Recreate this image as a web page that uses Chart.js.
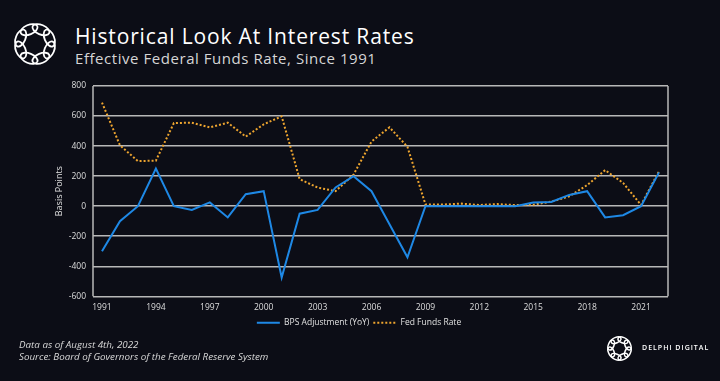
<!DOCTYPE html>
<html>
<head>
<meta charset="utf-8">
<script src="https://cdn.jsdelivr.net/npm/chart.js@4"></script>
<style>
  html, body { margin: 0; padding: 0; background: #0c0d16; width: 720px; height: 381px; overflow: hidden; }
  #wrap { position: relative; width: 720px; height: 381px; }
  #title { position: absolute; left: 75px; top: 22px; font-family: "Open Sans", sans-serif; font-weight: 500; font-size: 21px; letter-spacing: 0.85px; color: #ffffff; white-space: nowrap; }
  #subtitle { position: absolute; left: 75px; top: 48px; font-family: "Open Sans", sans-serif; font-weight: 400; font-size: 15px; letter-spacing: 0.55px; color: #d6d6d6; white-space: nowrap; }
  #foot { position: absolute; left: 19px; top: 339px; font-family: "Open Sans", sans-serif; font-style: italic; font-size: 9.8px; line-height: 12px; color: #d8d8d8; white-space: nowrap; }
  #brand { position: absolute; left: 642px; top: 343px; font-family: "Open Sans", sans-serif; font-size: 7px; letter-spacing: 1.0px; color: #ffffff; white-space: nowrap; font-weight: 600; }
  #chartbox { position: absolute; left: 0; top: 0; width: 720px; height: 381px; }
  svg { position: absolute; }
</style>
</head>
<body>
<div id="wrap">
  <svg id="logo1" width="50" height="50" style="left:10px; top:19px;" viewBox="-25 -25 50 50"></svg>
  <svg id="logo2" width="29" height="29" style="left:604.5px; top:333.5px;" viewBox="-25 -25 50 50"></svg>
  <div id="title">Historical Look At Interest Rates</div>
  <div id="subtitle">Effective Federal Funds Rate, Since 1991</div>
  <div id="chartbox"><canvas id="c" width="720" height="381"></canvas></div>
  <div id="foot">Data as of August 4th, 2022<br>Source: Board of Governors of the Federal Reserve System</div>
  <div id="brand">DELPHI DIGITAL</div>
</div>
<script>
// ---- data ----
const years = ["1991","1992","1993","1994","1995","1996","1997","1998","1999","2000","2001","2002","2003","2004","2005","2006","2007","2008","2009","2010","2011","2012","2013","2014","2015","2016","2017","2018","2019","2020","2021","2022"];
const bpsAdjustment = [-300,-100,0,250,0,-25,25,-75,80,100,-475,-50,-25,125,200,100,-120,-340,0,0,0,0,0,0,25,28,75,100,-75,-60,0,225];
const fedFundsRate = [690,405,300,303,553,556,525,556,463,545,598,180,124,100,210,430,525,395,12,11,17,8,14,7,10,30,65,140,240,155,8,233];
const yTicks = [-600,-400,-200,0,200,400,600,800];

// ---- logos (decoration) ----
function drawLogo(id, sw) {
  const svg = document.getElementById(id);
  const ns = "http://www.w3.org/2000/svg";
  for (let i = 0; i < 8; i++) {
    const a = i * 45;
    const e = document.createElementNS(ns, "ellipse");
    e.setAttribute("cx", 0); e.setAttribute("cy", -15.5);
    e.setAttribute("rx", 9); e.setAttribute("ry", 4.8);
    e.setAttribute("fill", "none"); e.setAttribute("stroke", "#ffffff");
    e.setAttribute("stroke-width", sw);
    e.setAttribute("transform", "rotate(" + (a + 22.5) + ")");
    svg.appendChild(e);
  }
}
drawLogo("logo1", 1.8);
drawLogo("logo2", 2.6);

// ---- chart ----
const frame = {
  id: "frame",
  afterDraw(chart) {
    const a = chart.chartArea, ctx = chart.ctx;
    ctx.save();
    ctx.strokeStyle = "#b8b8b8";
    ctx.lineWidth = 1.5;
    ctx.beginPath();
    ctx.moveTo(a.left, a.top); ctx.lineTo(a.left, a.bottom);
    ctx.moveTo(a.right, a.top); ctx.lineTo(a.right, a.bottom);
    ctx.stroke();
    ctx.restore();
  }
};

new Chart(document.getElementById("c"), {
  type: "line",
  data: {
    labels: years,
    datasets: [
      { label: "BPS Adjustment (YoY)", data: bpsAdjustment, borderColor: "#1e88e5", backgroundColor: "#1e88e5", borderWidth: 2, pointRadius: 0, tension: 0 },
      { label: "Fed Funds Rate", data: fedFundsRate, borderColor: "#eea52f", backgroundColor: "#eea52f", borderWidth: 2, borderDash: [2, 2], pointRadius: 0, tension: 0 }
    ]
  },
  options: {
    responsive: false,
    animation: false,
    layout: { padding: { left: 50, right: 52, top: 86, bottom: 44 } },
    plugins: {
      title: { display: false },
      tooltip: { enabled: false },
      legend: {
        position: "bottom",
        labels: {
          color: "#e0e0e0",
          font: { family: "Open Sans", size: 8.5 },
          boxWidth: 23, boxHeight: 0, padding: 4
        }
      }
    },
    scales: {
      x: {
        offset: true,
        grid: { display: false, drawTicks: false },
        border: { display: false },
        ticks: {
          color: "#dddddd", font: { family: "Open Sans", size: 8.5 },
          autoSkip: false, maxRotation: 0, padding: 6,
          callback: function(v, i) { return i % 3 === 0 ? years[i] : ""; }
        },
        afterFit: (s) => { s.height = s.height - 4; }
      },
      y: {
        min: -600, max: 800,
        afterBuildTicks: (s) => { s.ticks = yTicks.map(v => ({ value: v })); },
        grid: { color: "#b8b8b8", lineWidth: 1.5, drawTicks: false },
        border: { display: false },
        title: { display: true, text: "Basis Points", color: "#e0e0e0", font: { family: "Open Sans", size: 9 } },
        ticks: { color: "#dddddd", font: { family: "Open Sans", size: 8.5 }, padding: 7 },
        afterFit: (s) => { s.width = 43; }
      }
    }
  },
  plugins: [frame]
});
</script>
</body>
</html>
